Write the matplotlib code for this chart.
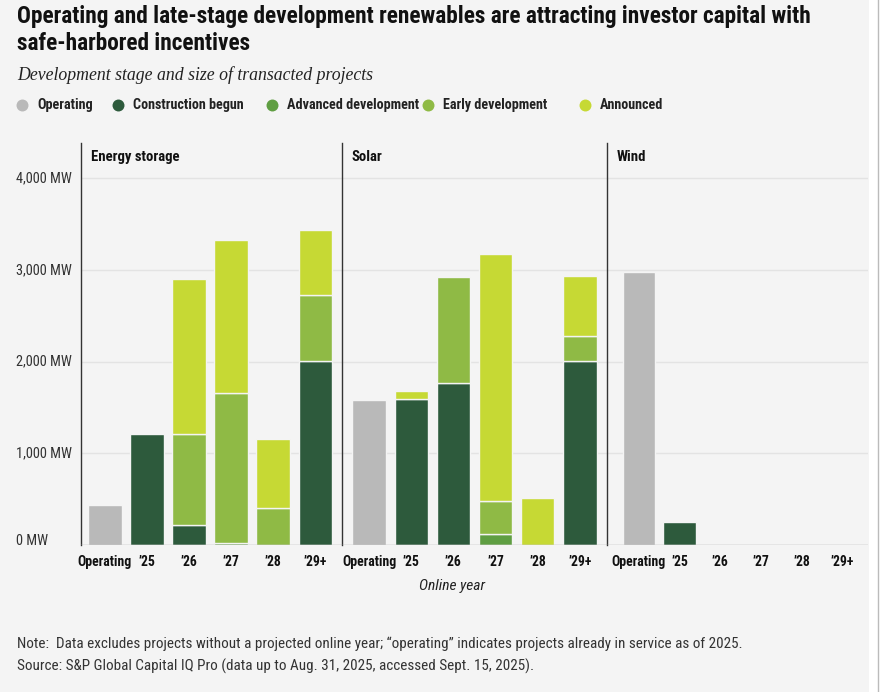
import matplotlib
matplotlib.use("Agg")
import matplotlib.pyplot as plt
from matplotlib import font_manager
from matplotlib.patches import Rectangle
from matplotlib.lines import Line2D

# ---------------- data ----------------
categories = ["Operating", "\u201925", "\u201926", "\u201927", "\u201928", "\u201929+"]
panels = ["Energy storage", "Solar", "Wind"]
stages = ["Operating", "Construction begun", "Advanced development", "Early development", "Announced"]

storage_operating    = [440, 0, 0, 0, 0, 0]
storage_construction = [0, 1210, 218, 0, 0, 2011]
storage_advanced     = [0, 0, 0, 25, 0, 0]
storage_early        = [0, 0, 989, 1630, 400, 716]
storage_announced    = [0, 0, 1691, 1672, 753, 706]

solar_operating    = [1578, 0, 0, 0, 0, 0]
solar_construction = [0, 1593, 1771, 0, 0, 2011]
solar_advanced     = [0, 0, 0, 116, 0, 0]
solar_early        = [0, 0, 1153, 368, 0, 265]
solar_announced    = [0, 91, 0, 2687, 509, 655]

wind_operating    = [2982, 0, 0, 0, 0, 0]
wind_construction = [0, 247, 0, 0, 0, 0]
wind_advanced     = [0, 0, 0, 0, 0, 0]
wind_early        = [0, 0, 0, 0, 0, 0]
wind_announced    = [0, 0, 0, 0, 0, 0]

y_ticks = [0, 1000, 2000, 3000, 4000]
y_tick_labels = ["0 MW", "1,000 MW", "2,000 MW", "3,000 MW", "4,000 MW"]

title_lines = ["Operating and late-stage development renewables are attracting investor capital with",
               "safe-harbored incentives"]
subtitle = "Development stage and size of transacted projects"
x_label = "Online year"
note = "Note:  Data excludes projects without a projected online year; \u201coperating\u201d indicates projects already in service as of 2025."
source = "Source: S&P Global Capital IQ Pro (data up to Aug. 31, 2025, accessed Sept. 15, 2025)."

# ---------------- style ----------------
stage_colors = ["#b9b9b9", "#2d5a3c", "#5f9e42", "#8fba45", "#c6d934"]
BG = "#f4f4f4"

names = {f.name for f in font_manager.fontManager.ttflist}
COND = next((n for n in ["Roboto Condensed", "Barlow Semi Condensed", "Archivo Narrow",
                         "Asap Condensed", "Roboto"] if n in names), "DejaVu Sans")
SERIF = next((n for n in ["Liberation Serif"] if n in names), "DejaVu Serif")
plt.rcParams["font.family"] = [COND, "DejaVu Sans"]

W, H = 883, 692
fig = plt.figure(figsize=(W / 100, H / 100), dpi=100, facecolor=BG)
renderer = fig.canvas.get_renderer()

def fx(x):
    return x / W

def fy(y):
    return 1 - y / H

def fit(t, target_px):
    """Scale a text's font size so its rendered width matches target_px."""
    w = t.get_window_extent(renderer=renderer).width
    if w > 0:
        t.set_fontsize(t.get_fontsize() * target_px / w)
    return t

# right white strip
fig.patches.append(Rectangle((fx(869), 0), 1 - fx(869), 1, transform=fig.transFigure,
                             facecolor="white", edgecolor="none", zorder=0))
fig.lines.append(Line2D([fx(878), fx(878)], [0, 1], transform=fig.transFigure, color="#bbbbbb", lw=1))

# titles
t1 = fig.text(fx(17), fy(17), title_lines[0], fontsize=15, fontweight="heavy", color="#111111",
              va="center", ha="left")
fit(t1, 793)
fig.text(fx(17), fy(43), title_lines[1], fontsize=t1.get_fontsize(), fontweight="heavy", color="#111111",
         va="center", ha="left")
st = fig.text(fx(17), fy(75), subtitle, fontsize=12.5, style="italic", family=SERIF, color="#222222",
              va="center", ha="left")
fit(st, 358)

# legend
leg_cx = [22, 118, 272, 428, 585]
for cx, col in zip(leg_cx, stage_colors):
    fig.lines.append(Line2D([fx(cx)], [fy(105)], transform=fig.transFigure, marker="o",
                            markersize=8.6, markerfacecolor=col, markeredgecolor="none", linestyle="none"))
lt = fig.text(fx(leg_cx[1] + 15), fy(105), stages[1], fontsize=10, fontweight="bold",
              color="#222222", va="center", ha="left")
fit(lt, 111)
leg_fs = lt.get_fontsize()
for k, (cx, lab) in enumerate(zip(leg_cx, stages)):
    if k != 1:
        fig.text(fx(cx + 15), fy(105), lab, fontsize=leg_fs, fontweight="bold", color="#222222",
                 va="center", ha="left")

# font sizes fitted on reference widths
probe = fig.text(0, 0, "Operating", fontsize=10, fontweight="bold")
fit(probe, 54)
tick_fs = probe.get_fontsize()
probe.remove()
probe = fig.text(0, 0, "4,000 MW", fontsize=10)
fit(probe, 56)
ytick_fs = probe.get_fontsize()
probe.remove()
probe = fig.text(0, 0, "Energy storage", fontsize=10, fontweight="bold")
fit(probe, 89)
panel_fs = probe.get_fontsize()
probe.remove()

# axes
ax_left_px = [81, 342, 607]
ax_right_px = [342, 607, 868]
ax_top_px, ax_base_px = 143, 545
xlims = [(-0.57, 5.64), (-0.64, 5.64), (-0.78, 5.62)]
ymax = 4384

panel_data = [
    [storage_operating, storage_construction, storage_advanced, storage_early, storage_announced],
    [solar_operating, solar_construction, solar_advanced, solar_early, solar_announced],
    [wind_operating, wind_construction, wind_advanced, wind_early, wind_announced],
]

xs = list(range(len(categories)))
for i, name in enumerate(panels):
    l, r = ax_left_px[i], ax_right_px[i]
    ax = fig.add_axes([fx(l), fy(ax_base_px), (r - l) / W, (ax_base_px - ax_top_px) / H])
    ax.set_facecolor("none")
    ax.set_xlim(*xlims[i])
    ax.set_ylim(0, ymax)
    for yt in y_ticks[1:]:
        ax.axhline(yt, color="#e3e3e3", lw=1, zorder=0)
    bottoms = [0.0] * len(categories)
    for series, col in zip(panel_data[i], stage_colors):
        for j, v in enumerate(series):
            if v > 0:
                ax.bar(xs[j], v, bottom=bottoms[j], width=0.79, color=col,
                       edgecolor=BG, linewidth=1.0, zorder=2)
                bottoms[j] += v
    for s in ["top", "right", "bottom"]:
        ax.spines[s].set_visible(False)
    ax.spines["left"].set_color("#333333")
    ax.spines["left"].set_linewidth(1)
    ax.axhline(0, color="#aaaaaa", lw=1, zorder=3)
    ax.set_yticks([])
    ax.set_xticks(xs)
    ax.set_xticklabels(categories, fontsize=tick_fs, fontweight="bold", color="#111111")
    ax.tick_params(axis="x", length=0, pad=7)
    ax.text(10 / (r - l), 0.965, name, transform=ax.transAxes, fontsize=panel_fs, fontweight="bold",
            color="#111111", va="center", ha="left")

# y tick labels (left-aligned)
for yt, lab in zip(y_ticks, y_tick_labels):
    ypx = ax_base_px - (ax_base_px - ax_top_px) * yt / ymax
    if yt == 0:
        ypx -= 4
    fig.text(fx(16), fy(ypx), lab, fontsize=ytick_fs, color="#333333", va="center", ha="left")

xl = fig.text(fx(452), fy(586), x_label, fontsize=10, style="italic", color="#222222", va="center", ha="center")
fit(xl, 66)
nt = fig.text(fx(17), fy(644), note, fontsize=10, color="#333333", va="center", ha="left")
fit(nt, 716)
fig.text(fx(17), fy(666), source, fontsize=nt.get_fontsize(), color="#333333", va="center", ha="left")

fig.savefig("out.png", dpi=100, facecolor=BG)
